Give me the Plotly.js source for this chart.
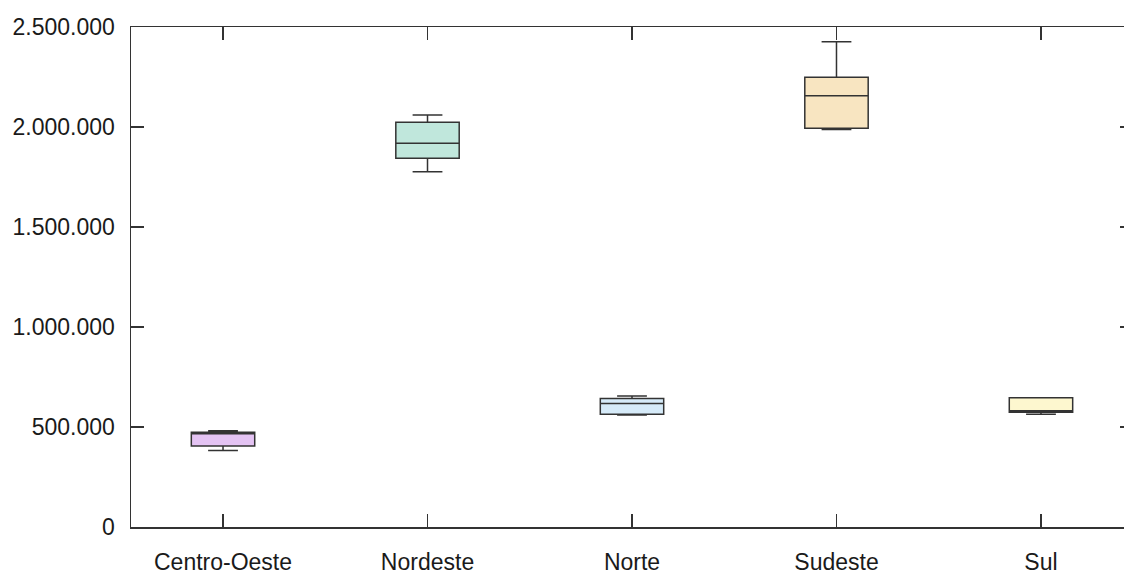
<!DOCTYPE html>
<html><head><meta charset="utf-8">
<script src="https://cdn.plot.ly/plotly-3.0.1.min.js"></script>
<style>html,body{margin:0;padding:0;overflow:hidden;background:#fff}</style>
</head><body><div id="chart"></div>
<script>
const categories = ["Centro-Oeste","Nordeste","Norte","Sudeste","Sul"];
const lowerWhisker = [383000, 1776000, 560000, 1988000, 563500];
const q1Values     = [405000, 1843500, 563500, 1993500, 573500];
const medianValues = [466000, 1918500, 618000, 2156500, 581500];
const q3Values     = [474000, 2023500, 643000, 2248500, 646500];
const upperWhisker = [481500, 2060000, 655000, 2426500, 646500];
const fillColors   = ["#E4C3F3","#C0E7DC","#D6EBF9","#F8E5C1","#FDF7CF"];

const traces = categories.map((c,i)=>({
  type:'box', x:[c],
  q1:[q1Values[i]], median:[medianValues[i]], q3:[q3Values[i]],
  lowerfence:[lowerWhisker[i]], upperfence:[upperWhisker[i]],
  fillcolor:fillColors[i], line:{color:'#333333', width:1.5},
  width:0.31, whiskerwidth:0.47, boxpoints:false, showlegend:false, hoverinfo:'none'
}));

const font = {family:'"Liberation Sans", Arial, sans-serif', size:23, color:'#1a1a1a'};
const layout = {
  width:1140, height:574,
  margin:{l:131, r:7, t:27, b:47},
  paper_bgcolor:'#ffffff', plot_bgcolor:'#ffffff',
  separators:',.',
  boxmode:'overlay',
  font:font,
  showlegend:false,
  xaxis:{type:'category', categoryorder:'array', categoryarray:categories,
    range:[-0.45,4.45], showgrid:false, zeroline:false,
    showline:true, linecolor:'#333333', linewidth:1.5, mirror:'allticks',
    ticks:'inside', ticklen:13, tickwidth:1.5, tickcolor:'#333333',
    ticklabelstandoff:14, tickfont:font},
  yaxis:{range:[0,2500000], tickvals:[0,500000,1000000,1500000,2000000,2500000],
    tickformat:',d', showgrid:false, zeroline:false,
    showline:true, linecolor:'#333333', linewidth:1.5, mirror:'allticks',
    ticks:'inside', ticklen:13, tickwidth:1.5, tickcolor:'#333333',
    ticklabelstandoff:10, tickfont:font}
};
Plotly.newPlot('chart', traces, layout, {staticPlot:true, displayModeBar:false});
</script></body></html>
